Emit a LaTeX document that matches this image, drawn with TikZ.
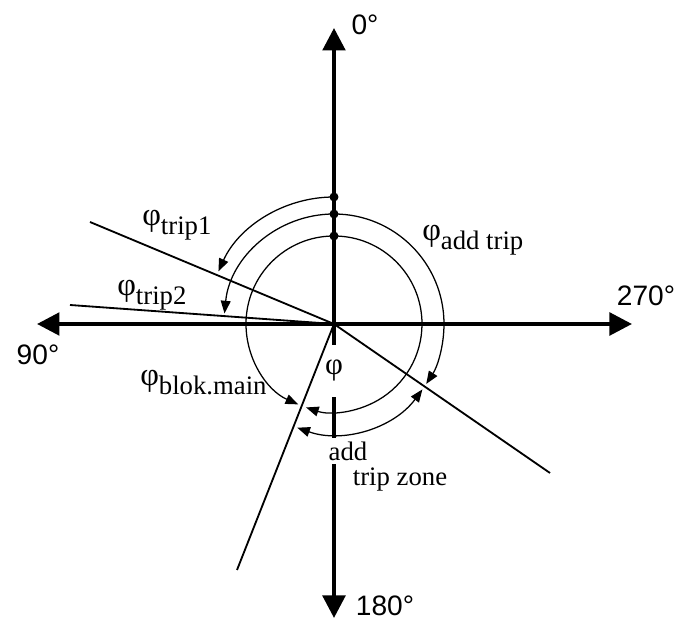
\documentclass[tikz,border=0pt]{standalone}
\usepackage{fontspec}
\setmainfont{Liberation Serif}
\newfontfamily\axisfont{Liberation Sans}
\usetikzlibrary{arrows.meta}

\tikzset{
    mainaxis/.style={line width=2.8pt, {Triangle[length=16pt,width=16pt]}-{Triangle[length=16pt,width=16pt]}},
    ray/.style={line width=1.3pt},
    arcline/.style={line width=0.9pt},
    arctip/.style={arcline, -{Triangle[length=9pt,width=7pt]}},
    axislabel/.style={font=\axisfont\fontsize{20}{24}\selectfont, inner sep=0pt},
    anglelabel/.style={font=\fontsize{19}{22}\selectfont, inner sep=0pt},
}
\newcommand{\phisub}[1]{{\fontsize{23}{23}\selectfont φ}\raisebox{-6pt}{#1}}

\begin{document}
\begin{tikzpicture}[x=0.025cm, y=0.025cm]
    \useasboundingbox (-334,-298) rectangle (346,324);

    \coordinate (O) at (0,0);
    \coordinate (top) at (0,296);
    \coordinate (bottom) at (0,-294);
    \coordinate (left) at (-297,0);
    \coordinate (right) at (298,0);

    % axes
    \draw[mainaxis] (bottom) -- (top);
    \draw[mainaxis] (left) -- (right);
    \node[axislabel] (lab0) at (31,299) {0°};
    \node[axislabel] (lab270) at (312,28) {270°};
    \node[axislabel] (lab90) at (-296,-31) {90°};
    \node[axislabel] (lab180) at (51,-282) {180°};

    % labels on the axis (white gaps)
    \node[anglelabel, font=\fontsize{22}{22}\selectfont, fill=white, minimum height=37pt, inner xsep=2pt] (phizone) at (0,-47) {φ};
    \node[anglelabel, fill=white, minimum height=19pt, inner xsep=2pt] (addlab) at (14,-127) {add};
    \node[anglelabel] (tripzone) at (66,-156) {trip zone};

    % rays
    \coordinate (trip1end) at (-244,102);
    \coordinate (trip2end) at (-264,19);
    \coordinate (addend) at (216,-149);
    \coordinate (blokend) at (-97,-246);
    \draw[ray] (O) -- (trip1end);
    \draw[ray] (O) -- (trip2end);
    \draw[ray] (O) -- (addend);
    \draw[ray] (O) -- (blokend);

    % angle arcs
    \draw[arctip] (0,127) arc[start angle=90, end angle=155.5, radius=127];
    \draw[arctip] (0,110) arc[start angle=90, end angle=174.5, radius=110];
    \draw[arctip] (0,110) arc[start angle=90, end angle=-33, radius=110];
    \draw[arcline, {Triangle[length=9pt,width=7pt]}-{Triangle[length=9pt,width=7pt]}] (-109.5:110) arc[start angle=-109.5, end angle=-36.5, radius=110];
    \draw[arctip] (0,88) arc[start angle=90, end angle=246, radius=88];
    \draw[arctip] (0,88) arc[start angle=90, end angle=-108.5, radius=88];

    \fill (0,127) circle (4.5);
    \fill (0,110) circle (4.5);
    \fill (0,88) circle (4.5);

    % angle names
    \node[anglelabel, anchor=base west] (ltrip1) at (-192,98) {\phisub{trip1}};
    \node[anglelabel, anchor=base west] (ltrip2) at (-217,28) {\phisub{trip2}};
    \node[anglelabel, anchor=base west] (laddtrip) at (88,83) {\phisub{add trip}};
    \node[anglelabel, anchor=base west] (lblok) at (-194,-62) {\phisub{blok.main}};
\end{tikzpicture}
\end{document}
